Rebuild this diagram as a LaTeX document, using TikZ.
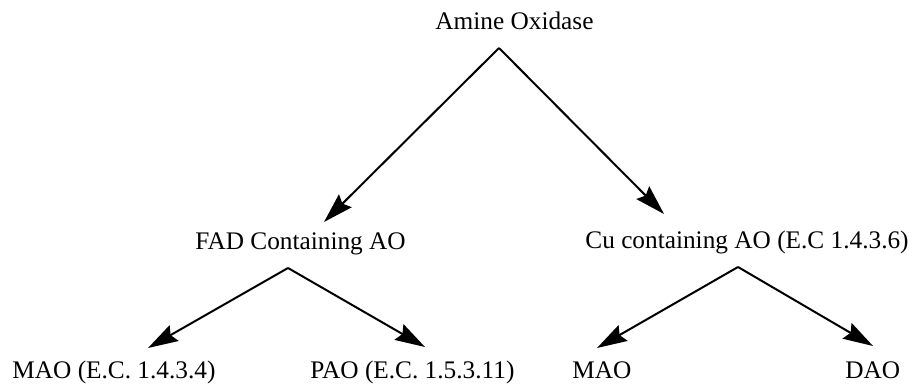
\documentclass[tikz,border=0pt]{standalone}
\usepackage{fontspec}
\setmainfont{Liberation Serif}
\usetikzlibrary{arrows.meta}

\begin{document}
\begin{tikzpicture}[
  x=0.5pt, y=-0.5pt,  label/.style={anchor=base west,inner sep=0pt,font=\fontsize{12.65}{15}\selectfont},  link/.style={line width=1pt,-{Stealth[length=15pt,width=9pt,inset=2pt]}}
]
  \useasboundingbox (0,0) rectangle (915,385);
  \node[label] (ao) at (435,30) {Amine Oxidase};
  \node[label] (fad) at (195,249) {FAD Containing AO};
  \node[label] (cu) at (585,248) {Cu containing AO (E.C 1.4.3.6)};
  \node[label] (mao1) at (12,378) {MAO (E.C. 1.4.3.4)};
  \node[label] (pao) at (310,378) {PAO (E.C. 1.5.3.11)};
  \node[label] (mao2) at (572,378) {MAO};
  \node[label] (dao) at (845,378) {DAO};
  \coordinate (ao-out) at (499,48);
  \coordinate (fad-in) at (324,222);
  \coordinate (cu-in) at (664,214);
  \coordinate (fad-out) at (288,268);
  \coordinate (mao1-in) at (148,348);
  \coordinate (pao-in) at (425,347);
  \coordinate (cu-out) at (738,267);
  \coordinate (mao2-in) at (597,348);
  \coordinate (dao-in) at (873,346);
  \draw[link] (ao-out) -- (fad-in);
  \draw[link] (ao-out) -- (cu-in);
  \draw[link] (fad-out) -- (mao1-in);
  \draw[link] (fad-out) -- (pao-in);
  \draw[link] (cu-out) -- (mao2-in);
  \draw[link] (cu-out) -- (dao-in);
\end{tikzpicture}
\end{document}
